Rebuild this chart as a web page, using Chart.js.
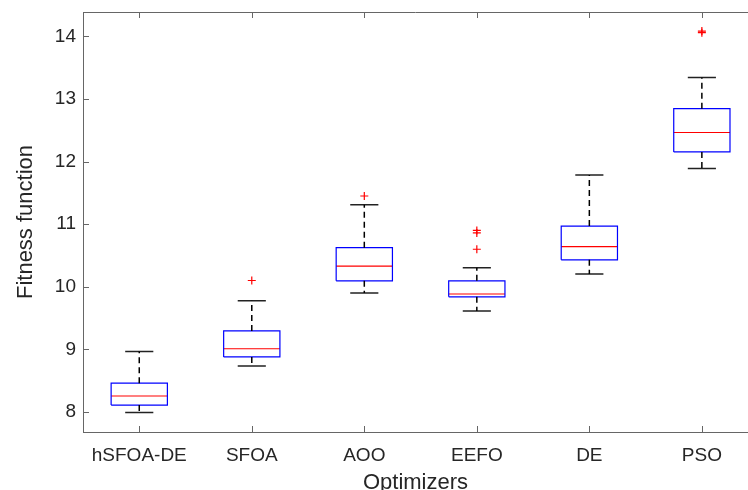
<!DOCTYPE html>
<html>
<head>
<meta charset="utf-8">
<script src="https://cdn.jsdelivr.net/npm/chart.js@4.4.1/dist/chart.umd.min.js"></script>
<style>
  body { margin: 0; background: #fff; }
  #wrap { width: 748px; height: 490px; }
</style>
</head>
<body>
<div id="wrap"><canvas id="box_chart"></canvas></div>
<script>
const optimizers = ["hSFOA-DE", "SFOA", "AOO", "EEFO", "DE", "PSO"];
const whiskerLow = [7.99, 8.735, 9.90, 9.615, 10.205, 11.89];
const quart1 = [8.11, 8.88, 10.095, 9.84, 10.43, 12.155];
const medians = [8.255, 9.01, 10.33, 9.885, 10.64, 12.465];
const quart3 = [8.46, 9.295, 10.625, 10.095, 10.97, 12.845];
const whiskerHigh = [8.965, 9.775, 11.31, 10.305, 11.785, 13.345];
const outliers = [[], [10.10], [11.45], [10.60, 10.86, 10.90], [], [14.06, 14.085]];
const yTicks = [8, 9, 10, 11, 12, 13, 14];

const fontFam = "'Liberation Sans', Arial, Helvetica, sans-serif";
const halfBox = 0.25;
const halfCap = 0.125;

let boxLines = [], medianLines = [], whiskerLines = [], capLines = [], outlierPts = [];
optimizers.forEach(function (name, i) {
  let c = i + 1;
  boxLines.push({x: c - halfBox, y: quart1[i]}, {x: c + halfBox, y: quart1[i]},
    {x: c + halfBox, y: quart3[i]}, {x: c - halfBox, y: quart3[i]},
    {x: c - halfBox, y: quart1[i]}, {x: c, y: null});
  medianLines.push({x: c - halfBox, y: medians[i]}, {x: c + halfBox, y: medians[i]}, {x: c, y: null});
  whiskerLines.push({x: c, y: quart3[i]}, {x: c, y: whiskerHigh[i]}, {x: c, y: null},
    {x: c, y: quart1[i]}, {x: c, y: whiskerLow[i]}, {x: c, y: null});
  capLines.push({x: c - halfCap, y: whiskerHigh[i]}, {x: c + halfCap, y: whiskerHigh[i]}, {x: c, y: null},
    {x: c - halfCap, y: whiskerLow[i]}, {x: c + halfCap, y: whiskerLow[i]}, {x: c, y: null});
  outliers[i].forEach(function (v) { outlierPts.push({x: c, y: v}); });
});

// MATLAB style ticks pointing inward + top frame line
const innerTicks = {
  id: "innerTicks",
  afterDraw(chart) {
    const ctx = chart.ctx, a = chart.chartArea;
    const xs = chart.scales.x, ys = chart.scales.y;
    ctx.save();
    ctx.strokeStyle = "#666";
    ctx.lineWidth = 1;
    ctx.beginPath();
    ctx.moveTo(a.left, a.top + 0.5);
    ctx.lineTo(a.right, a.top + 0.5);
    optimizers.forEach(function (n, i) {
      let px = Math.round(xs.getPixelForValue(i + 1)) + 0.5;
      ctx.moveTo(px, a.bottom); ctx.lineTo(px, a.bottom - 6);
      ctx.moveTo(px, a.top); ctx.lineTo(px, a.top + 6);
    });
    yTicks.forEach(function (v) {
      let py = Math.round(ys.getPixelForValue(v)) + 0.5;
      ctx.moveTo(a.left, py); ctx.lineTo(a.left + 6, py);
    });
    ctx.stroke();
    ctx.restore();
  }
};

new Chart(document.getElementById("box_chart"), {
  type: "line",
  data: {
    datasets: [
      {
        data: whiskerLines,
        borderColor: "#000",
        borderWidth: 1.5,
        borderDash: [6, 4],
        pointRadius: 0
      },
      {
        data: capLines,
        borderColor: "#222",
        borderWidth: 1.5,
        pointRadius: 0
      },
      {
        data: boxLines,
        borderColor: "#0000ff",
        borderWidth: 1.2,
        pointRadius: 0
      },
      {
        data: medianLines,
        borderColor: "#ff0000",
        borderWidth: 1.2,
        pointRadius: 0
      },
      {
        data: outlierPts,
        showLine: false,
        pointStyle: "cross",
        pointRadius: 4,
        borderColor: "#ff0000",
        borderWidth: 1.2
      }
    ]
  },
  plugins: [innerTicks],
  options: {
    responsive: true,
    maintainAspectRatio: false,
    animation: false,
    spanGaps: false,
    layout: { autoPadding: false, padding: { top: 12, right: 0, left: 0, bottom: 0 } },
    plugins: {
      legend: { display: false },
      tooltip: { enabled: false }
    },
    scales: {
      x: {
        type: "linear",
        min: 0.5,
        max: 6.41,
        grid: { display: false, drawTicks: false, tickLength: 0 },
        border: { display: true, color: "#666", width: 1 },
        afterBuildTicks: function (scale) {
          scale.ticks = optimizers.map(function (n, i) { return {value: i + 1}; });
        },
        afterFit: function (scale) {
          scale.height = 58;
          scale.paddingLeft = 0;
          scale.paddingRight = 0;
        },
        ticks: {
          autoSkip: false,
          maxRotation: 0,
          padding: 12,
          color: "#262626",
          font: { family: fontFam, size: 19 },
          callback: function (v) { return optimizers[v - 1]; }
        },
        title: {
          display: true,
          text: "Optimizers",
          color: "#262626",
          padding: { top: 0, bottom: -4 },
          font: { family: fontFam, size: 22, lineHeight: 1 }
        }
      },
      y: {
        min: 7.68,
        max: 14.39,
        grid: { display: false, drawTicks: false, tickLength: 0 },
        border: { display: true, color: "#666", width: 1 },
        afterBuildTicks: function (scale) {
          scale.ticks = yTicks.map(function (v) { return {value: v}; });
        },
        afterFit: function (scale) {
          scale.width = 83;
          scale.paddingTop = 0;
          scale.paddingBottom = 0;
        },
        ticks: {
          padding: 7,
          color: "#262626",
          font: { family: fontFam, size: 19 }
        },
        title: {
          display: true,
          text: "Fitness function",
          color: "#262626",
          padding: { top: 15, bottom: 0 },
          font: { family: fontFam, size: 22, lineHeight: 1 }
        }
      }
    }
  }
});
</script>
</body>
</html>
